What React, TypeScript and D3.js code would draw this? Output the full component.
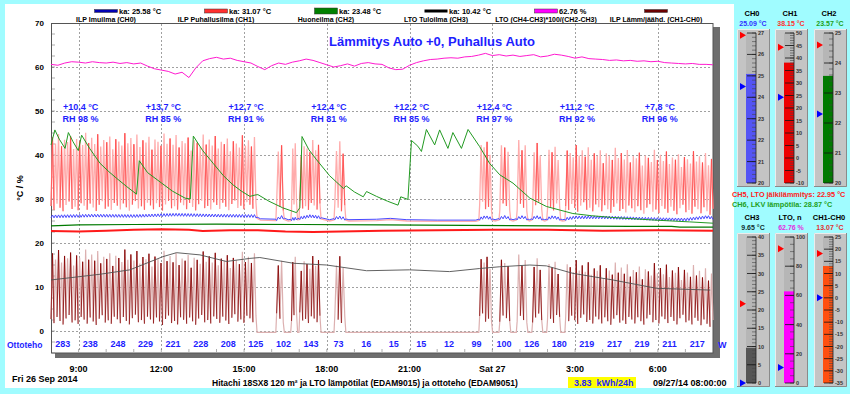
import React from 'react';
import * as d3 from 'd3';

const FONT = "'Liberation Sans', Arial, Helvetica, sans-serif";

// time = hours after Fri 26 Sep 2014 08:00
const timeTicks = [1, 4, 7, 10, 13, 16, 19, 22];
const timeLabels = ['9:00', '12:00', '15:00', '18:00', '21:00', 'Sat 27', '3:00', '6:00'];
const valueTicks = [0, 10, 20, 30, 40, 50, 60, 70];

const outdoorTemps = ['+10,4 °C', '+13,7 °C', '+12,7 °C', '+12,4 °C', '+12,2 °C', '+12,4 °C', '+11,2 °C', '+7,8 °C'];
const outdoorRH = ['RH 98 %', 'RH 85 %', 'RH 91 %', 'RH 81 %', 'RH 85 %', 'RH 97 %', 'RH 92 %', 'RH 96 %'];

// hourly input power (W)
const powerW = [283, 238, 248, 229, 221, 228, 208, 125, 102, 143, 73, 16, 15, 15, 12, 99, 100, 126, 180, 219, 217, 219, 211, 217];

const legendNames = ['ILP Imuilma (CH0)', 'ILP Puhallusilma (CH1)', 'Huoneilma (CH2)', 'LTO Tuloilma (CH3)', 'LTO (CH4-CH3)*100/(CH2-CH3)', 'ILP Lämm/jäähd. (CH1-CH0)'];
const legendValues = ['ka: 25.58 °C', 'ka: 31.07 °C', 'ka: 23.48 °C', 'ka: 10.42 °C', '62.76 %', ''];
const legendFill = ['#0000b4', '#ff3030', '#008000', '#000000', '#ff00ff', '#6b0000'];
const legendH = [3, 4, 6, 3, 4, 3];

// compressor running periods [start h, end h] and cycle length (h)
const bursts: [number, number][] = [[0, 7.43], [8.18, 8.42], [8.72, 8.9], [9.02, 9.75], [10.29, 10.65], [15.54, 15.97], [16.27, 16.63], [16.9, 17.25], [17.46, 17.79], [18.0, 18.44], [18.66, 24]];
const CYCLE_H = 0.11;

// CH1 blow air: envelope of the cycling
const ch1Peak: [number, number][] = [[0, 43.2], [4, 43], [7.4, 42.5], [9, 41.5], [10.6, 41.5], [15.5, 42], [17, 41.5], [18.7, 40.5], [21, 39.5], [24, 38.8]];
const ch1Trough: [number, number][] = [[0, 28], [7.4, 28.3], [10.6, 28], [18.7, 28], [21, 27.5], [24, 27.2]];
const peakVar = [0.8, -0.6, 1.6, -1.2, 0.3, -0.2, 1.1, -1.8, 0.5, 0.0, -0.9, 1.9, -0.4];
const troughVar = [0.4, -0.5, 0.9, 0.0, -0.8, 0.6, 1.4, -0.3, 0.2, -0.6, 1.0];

// CH0 intake air
const ch0Base: [number, number][] = [[0, 26.0], [1.5, 26.2], [3, 26.1], [4.5, 26.4], [6, 26.2], [7.4, 26.1], [7.6, 25.5], [8.2, 25.4], [8.35, 25.9], [8.6, 25.3], [9.0, 25.6], [9.4, 26.1], [9.75, 25.8], [10.1, 25.3], [10.45, 25.8], [10.8, 25.3], [11.8, 25.4], [12.3, 25.6], [12.9, 25.3], [14, 25.2], [15.4, 25.2], [15.75, 25.9], [16.1, 25.3], [16.45, 25.9], [16.75, 25.3], [17.1, 25.9], [17.35, 25.3], [17.6, 25.9], [17.9, 25.3], [18.2, 25.9], [18.55, 25.3], [19.0, 25.8], [20, 25.8], [21, 25.6], [22, 25.4], [23, 25.3], [23.8, 25.9], [24, 25.6]];

// CH2 room air
const ch2: [number, number][] = [[0, 23.9], [1, 24.1], [3, 24.2], [6, 24.3], [9, 24.2], [12, 24.1], [15, 24.0], [18, 23.9], [21, 23.8], [22.5, 23.8], [22.8, 23.6], [24, 23.6]];

// CH5 LTO post heating
const ch5: [number, number][] = [[0, 22.7], [1, 22.6], [2, 22.8], [3, 23.0], [4, 23.1], [5, 23.0], [5.5, 22.7], [6.5, 22.9], [7.5, 22.9], [8.5, 22.6], [9.5, 22.5], [10.5, 22.6], [12, 22.8], [14, 22.9], [16, 23.0], [18, 23.0], [20, 22.8], [22, 22.9], [24, 22.8]];

// CH6 hot water
const ch6: [number, number][] = [[0.0, 42.3], [0.14, 45.7], [0.3, 43.6], [0.51, 41.5], [0.63, 45.1], [0.8, 43.0], [0.99, 41.0], [1.11, 44.5], [1.4, 41.5], [1.78, 38.1], [2.1, 36.2], [2.38, 34.7], [2.75, 32.8], [3.1, 31.1], [3.2, 38.7], [3.5, 36.0], [3.95, 33.9], [4.4, 31.8], [4.86, 30.2], [5.05, 30.0], [5.16, 44.3], [5.5, 41.0], [5.88, 38.1], [6.25, 35.3], [6.6, 33.2], [6.9, 31.8], [7.21, 30.6], [7.4, 30.9], [7.5, 31.0], [7.9, 29.5], [8.4, 28.0], [8.9, 26.9], [9.02, 28], [9.1, 44.2], [9.35, 41.2], [9.63, 38.9], [10.1, 35.3], [10.6, 32.4], [10.7, 33.0], [11.0, 31.6], [11.32, 30.5], [11.44, 31.7], [11.8, 30.6], [12.2, 29.5], [12.58, 28.6], [12.68, 30.5], [12.94, 29.9], [13.07, 43.3], [13.3, 42.0], [13.43, 40.8], [13.61, 45.8], [13.91, 42.3], [14.09, 45.7], [14.39, 41.5], [14.57, 45.1], [14.88, 41.5], [15.12, 45.8], [15.54, 41.9], [15.9, 38.1], [16.27, 35.5], [16.75, 33.6], [17.36, 30.2], [17.96, 28.3], [18.92, 26.7], [19.6, 26.2], [20.35, 25.8], [21.9, 25.2], [23.15, 24.8], [24.0, 24.5]];

// CH3 LTO supply air
const ch3: [number, number][] = [[0, 11.6], [1.78, 12.9], [2.86, 13.9], [4.06, 16.9], [4.55, 17.8], [5.4, 17.3], [6.36, 15.8], [7.21, 16.5], [7.57, 16.7], [8.78, 15.4], [9.99, 15.0], [11.44, 13.7], [13.0, 13.9], [14.45, 13.5], [15.54, 14.2], [16.27, 14.6], [17.36, 15.0], [17.96, 14.8], [18.92, 13.1], [20.37, 11.6], [21.95, 9.7], [23.9, 9.3]];

// LTO efficiency %, every 15 min
const lto = [60.6, 60.4, 60.9, 61.2, 61.1, 60.9, 61.2, 61.0, 60.9, 61.1, 60.8, 61.0, 60.7, 60.9, 60.2, 59.6, 59.3, 59.0, 58.4, 58.8, 57.6, 59.8, 61.4, 61.9, 62.2, 61.8, 62.0, 61.5, 61.2, 60.9, 60.1, 59.4, 60.3, 60.9, 60.6, 61.1, 61.4, 61.8, 61.5, 61.0, 60.5, 60.0, 60.3, 60.7, 60.2, 60.8, 61.0, 60.7, 60.6, 59.8, 59.4, 59.5, 60.4, 61.0, 61.4, 61.7, 61.8, 62.0, 62.1, 62.0, 62.3, 62.4, 62.7, 63.1, 62.6, 62.8, 62.5, 62.7, 62.4, 62.6, 62.8, 62.3, 62.5, 62.9, 62.7, 62.4, 62.0, 62.3, 61.9, 61.8, 61.7, 61.5, 61.6, 61.4, 61.5, 61.3, 61.4, 61.2, 61.3, 61.0, 60.9, 60.8, 60.7, 60.8, 60.6, 60.6, 60.5];

// right side gauges
const gauges = [
  { name: 'CH0', text: '25.09 °C', color: '#3030ff', min: 20, max: 27, major: 1, minor: 0.2, value: 25.09, hi: 26.9, lo: 24.5, fill: '#5454f4' },
  { name: 'CH1', text: '38.15 °C', color: '#ff3030', min: -10, max: 50, major: 5, minor: 1, value: 38.15, hi: 44.3, lo: 24.3, fill: '#ee0000' },
  { name: 'CH2', text: '23.57 °C', color: '#20a020', min: 20, max: 25, major: 1, minor: 0.2, value: 23.57, hi: 24.6, lo: 22.3, fill: '#007a00' },
  { name: 'CH3', text: '9.65 °C', color: '#103030', min: 0, max: 40, major: 5, minor: 1, value: 9.65, hi: 21.7, lo: 0, fill: '#555555' },
  { name: 'LTO, n', text: '62.76 %', color: '#e030e0', min: 0, max: 100, major: 20, minor: 5, value: 62.76, hi: 92, lo: 10.7, fill: '#ff00ff' },
  { name: 'CH1-CH0', text: '13.07 °C', color: '#e03030', min: -35, max: 25, major: 5, minor: 1, value: 13.07, hi: 18.2, lo: 0, fill: '#ff5010' },
];

const x = d3.scaleLinear().domain([0, 24]).range([51, 713]);
const y = d3.scaleLinear().domain([-5, 70]).range([353, 23]);
const curve = (pts: [number, number][]) => d3.scaleLinear().domain(pts.map(p => p[0])).range(pts.map(p => p[1])).clamp(true);

const peakAt = curve(ch1Peak);
const troughAt = curve(ch1Trough);
const baseAt = curve(ch0Base);

type Sample = { t: number; k: number; c: number };
const samples: Sample[] = [];
let cyc = 0;
bursts.forEach(([s, e], bi) => {
  if (bi > 0) {
    const pe = bursts[bi - 1][1];
    samples.push({ t: pe + 0.04, k: 0, c: -1 });
    ch0Base.forEach(([t]) => { if (t > pe + 0.04 && t < s - 0.03) samples.push({ t, k: 0, c: -1 }); });
    samples.push({ t: s - 0.03, k: 0, c: -1 });
  }
  const n = Math.max(1, Math.round((e - s) / CYCLE_H));
  const w = (e - s) / n;
  for (let i = 0; i < n; i++) {
    samples.push({ t: s + i * w, k: 1, c: cyc });
    samples.push({ t: s + (i + 0.5) * w, k: 2, c: cyc });
    cyc++;
  }
  samples.push({ t: e, k: 1, c: cyc });
});

const ch1At = (d: Sample) => d.k === 2 ? peakAt(d.t) + peakVar[d.c % peakVar.length]
  : d.k === 1 ? troughAt(d.t) + troughVar[d.c % troughVar.length] : baseAt(d.t) - 0.3;
const ch0At = (d: Sample) => baseAt(d.t) + (d.k === 2 ? 0.35 : d.k === 1 ? -0.3 : 0);
const ch1v = samples.map(ch1At);
const ch0v = samples.map(ch0At);
const diffv = samples.map((d, i) => ch1v[i] - ch0v[i]);

const linePts = d3.line<[number, number]>().x(d => x(d[0])).y(d => y(d[1]));
const seriesPath = (vals: number[]) => linePts(samples.map((d, i) => [d.t, vals[i]] as [number, number])) || '';
const accentPath = (vals: number[], keep: (c: number) => boolean) => {
  let p = '';
  samples.forEach((d, i) => {
    if (d.k !== 2 || !keep(d.c) || i === 0 || i === samples.length - 1) return;
    p += `M${x(samples[i - 1].t)},${y(vals[i - 1])}L${x(d.t)},${y(vals[i])}L${x(samples[i + 1].t)},${y(vals[i + 1])}`;
  });
  return p;
};

function Gauge({ x0, y0, h, g }: { x0: number; y0: number; h: number; g: typeof gauges[0] }) {
  const s = d3.scaleLinear().domain([g.min, g.max]).range([y0 + h - 4, y0 + 4]);
  const ax = x0 + 19;
  const minors = d3.range(g.min, g.max + g.minor / 2, g.minor);
  const majors = d3.range(g.min, g.max + g.major / 2, g.major);
  const tri = (v: number) => `M${x0 + 3},${s(v) - 3.5}L${x0 + 9},${s(v)}L${x0 + 3},${s(v) + 3.5}Z`;
  return (
    <g>
      <rect x={x0} y={y0} width={33} height={h} fill="#c4c4c4" />
      <path d={`M${x0 + 0.5},${y0 + h} V${y0 + 0.5} H${x0 + 33}`} stroke="#ececec" fill="none" />
      <path d={`M${x0 + 32.5},${y0} V${y0 + h - 0.5} H${x0}`} stroke="#8a8a8a" fill="none" />
      <rect x={x0 + 9} y={s(g.max)} width={10} height={s(g.min) - s(g.max)} fill="#b6b6b6" />
      <rect x={x0 + 9} y={s(g.value)} width={10} height={s(g.min) - s(g.value)} fill={g.fill} />
      {minors.map((v, i) => <line key={'m' + i} x1={ax - 4} x2={ax} y1={s(v)} y2={s(v)} stroke="#444" strokeWidth={0.6} />)}
      {majors.map((v, i) => <line key={'M' + i} x1={ax - 9} x2={ax} y1={s(v)} y2={s(v)} stroke="#111" strokeWidth={0.8} />)}
      <line x1={ax} x2={ax} y1={s(g.max)} y2={s(g.min)} stroke="#222" strokeWidth={0.8} />
      {majors.map((v, i) => <text key={'t' + i} x={ax + 2} y={s(v) + 2} fontSize={5.5} fill="#333">{v}</text>)}
      <path d={tri(g.hi)} fill="#ff0000" />
      <path d={tri(g.lo)} fill="#0000ff" />
    </g>
  );
}

export default function App() {
  const gaugeX = [737, 775, 814];
  return (
    <svg width={850} height={394} style={{ position: 'absolute', left: 0, top: 0, fontFamily: FONT, fontWeight: 'bold' }}>
      <rect width={850} height={394} fill="#a0fcff" />
      <rect x={5} y={4} width={729} height={384} fill="#ffffff" />

      {/* legend */}
      {legendNames.map((n, i) => {
        const cx = 106 + i * 110;
        return (
          <g key={n}>
            <rect x={cx - 11.5} y={11 - legendH[i] / 2} width={23} height={legendH[i]} fill={legendFill[i]} stroke={i === 3 ? 'none' : '#333'} strokeWidth={0.5} />
            {legendValues[i] && <text x={cx + 13} y={14} fontSize={7.5}>{legendValues[i]}</text>}
            <text x={cx} y={21.5} fontSize={7} textAnchor="middle">{n}</text>
          </g>
        );
      })}

      {/* plot frame */}
      <rect x={713} y={27} width={7} height={331} fill="#6e6e6e" />
      <rect x={55} y={353} width={665} height={5} fill="#6e6e6e" />
      <rect x={51.5} y={23.5} width={661.5} height={329.5} fill="#ffffff" stroke="#555" strokeWidth={1} />

      {/* grid */}
      {valueTicks.filter(v => v < 70).map(v => (
        <line key={'gy' + v} x1={52} x2={712} y1={Math.round(y(v)) + 0.5} y2={Math.round(y(v)) + 0.5} stroke="#888" strokeDasharray="2,2" strokeWidth={0.8} />
      ))}
      {timeTicks.map(h => (
        <line key={'gx' + h} x1={Math.round(x(h)) + 0.5} x2={Math.round(x(h)) + 0.5} y1={24} y2={352} stroke="#888" strokeDasharray="2,2" strokeWidth={0.8} />
      ))}
      {d3.range(-5, 70, 2.5).map(v => (
        <line key={'my' + v} x1={52} x2={55} y1={y(v)} y2={y(v)} stroke="#777" strokeWidth={0.6} />
      ))}
      {d3.range(1, 24).map(h => (
        <line key={'mx' + h} x1={x(h)} x2={x(h)} y1={352} y2={349} stroke="#777" strokeWidth={0.6} />
      ))}

      {/* axes labels */}
      {valueTicks.map(v => (
        <text key={'ty' + v} x={44} y={y(v) + 3} fontSize={8} textAnchor="end">{v}</text>
      ))}
      <text transform="translate(23,188) rotate(-90)" fontSize={9} textAnchor="middle">°C / %</text>
      {timeTicks.map((h, i) => (
        <text key={'tx' + h} x={x(h)} y={372} fontSize={9} textAnchor="middle">{timeLabels[i]}</text>
      ))}

      {/* series */}
      <path d={linePts(lto.map((v, i) => [i * 0.25, v] as [number, number])) || ''} fill="none" stroke="#ff1ad0" strokeWidth={1} />
      <path d={seriesPath(ch1v)} fill="none" stroke="#ffacac" strokeWidth={1.3} />
      <path d={accentPath(ch1v, c => c % 3 === 0)} fill="none" stroke="#ff4848" strokeWidth={0.8} />
      <path d={seriesPath(diffv)} fill="none" stroke="#dcb0b0" strokeWidth={1.2} />
      <path d={accentPath(diffv, c => c % 2 === 0)} fill="none" stroke="#850000" strokeWidth={0.8} />
      <path d={seriesPath(ch0v)} fill="none" stroke="#4848ff" strokeWidth={1} />
      <path d={linePts(ch5) || ''} fill="none" stroke="#ff1a1a" strokeWidth={2} />
      <path d={linePts(ch2) || ''} fill="none" stroke="#007a00" strokeWidth={1.2} />
      <path d={linePts(ch6) || ''} fill="none" stroke="#229a22" strokeWidth={1} />
      <path d={linePts(ch3) || ''} fill="none" stroke="#505050" strokeWidth={0.9} />

      {/* annotations */}
      <text x={432} y={46} fontSize={13} textAnchor="middle" fill="#1e1eff">Lämmitys Auto +0, Puhallus Auto</text>
      {timeTicks.map((h, i) => (
        <g key={'o' + h} fill="#1e1eff" fontSize={9} textAnchor="middle">
          <text x={x(h) + 2} y={110}>{outdoorTemps[i]}</text>
          <text x={x(h) + 2} y={122}>{outdoorRH[i]}</text>
        </g>
      ))}
      <text x={7} y={348} fontSize={8.5} fill="#1e1eff">Ottoteho</text>
      {powerW.map((p, i) => (
        <text key={'p' + i} x={x(i + 0.5) - 2} y={347} fontSize={9} textAnchor="middle" fill="#1e1eff">{p}</text>
      ))}
      <text x={718} y={348} fontSize={9} fill="#1e1eff">W</text>

      {/* footer */}
      <text x={12} y={382} fontSize={9}>Fri 26 Sep 2014</text>
      <text x={212} y={386} fontSize={8.5}>Hitachi 18SX8 120 m² ja LTO lämpötilat (EDAM9015) ja ottoteho (EDAM9051)</text>
      <rect x={568} y={377} width={68} height={11} fill="#ffff00" />
      <text x={574} y={386} fontSize={9} fill="#1e1eff" style={{ whiteSpace: 'pre' }}>3.83  kWh/24h</text>
      <text x={653} y={386} fontSize={9}>09/27/14 08:00:00</text>

      {/* right panel */}
      {gauges.map((g, i) => {
        const row = Math.floor(i / 3);
        const x0 = gaugeX[i % 3];
        const y0 = row === 0 ? 29 : 233;
        const h = row === 0 ? 158 : 154;
        const ly = row === 0 ? 16 : 220;
        return (
          <g key={g.name}>
            <text x={x0 + 15} y={ly} fontSize={7.5} textAnchor="middle">{g.name}</text>
            <text x={x0 + 16} y={ly + 10} fontSize={7} textAnchor="middle" fill={g.color}>{g.text}</text>
            <Gauge x0={x0} y0={y0} h={h} g={g} />
          </g>
        );
      })}
      <text x={732} y={197} fontSize={7.3} fill="#ff2020">CH5, LTO jälkilämmitys: 22.95 °C</text>
      <text x={732} y={207} fontSize={7.3} fill="#20a020">CH6, LKV lämpötila: 28.87 °C</text>
    </svg>
  );
}
